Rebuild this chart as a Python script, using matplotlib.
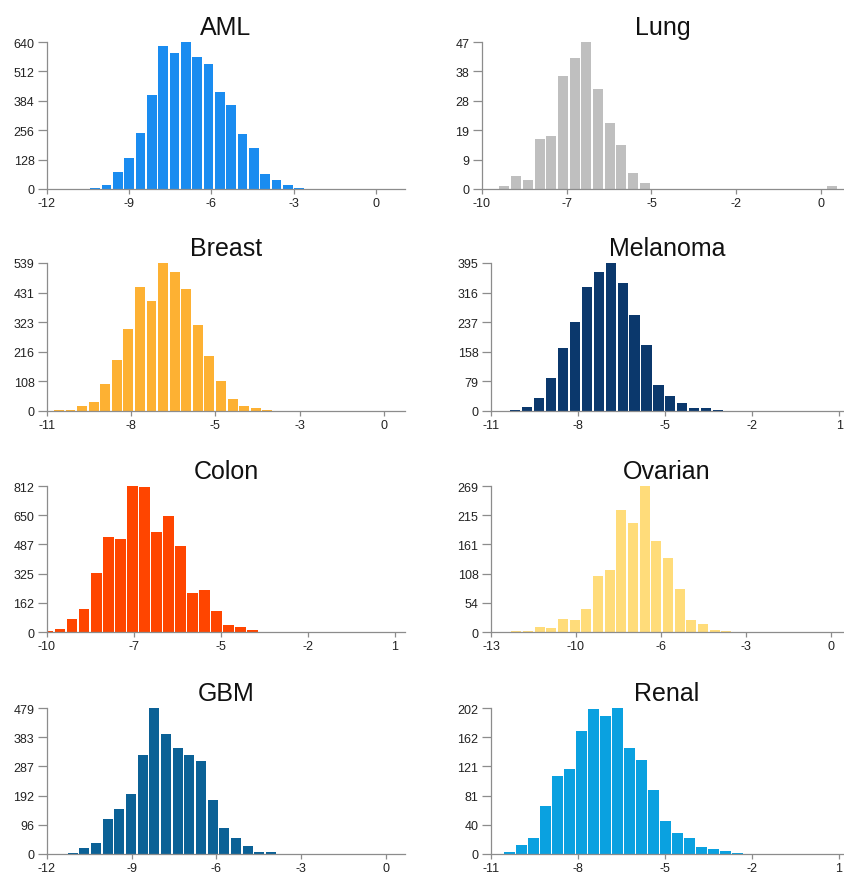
import matplotlib
matplotlib.use("Agg")
import matplotlib.pyplot as plt
import numpy as np

plt.rcParams["font.family"] = ["Liberation Sans", "DejaVu Sans"]

W, H = 844, 879

# counts per bin
aml = [2, 6, 19, 76, 134, 243, 410, 623, 591, 640, 576, 544, 423, 365, 241, 177, 65, 41, 16, 6]
lung = [1, 4, 3, 16, 17, 36, 42, 47, 32, 21, 14, 5, 2,
        0, 0, 0, 0, 0, 0, 0, 0, 0, 0, 0, 0, 0, 0, 0, 1]
breast = [2, 3, 17, 33, 100, 184, 299, 453, 399, 539, 508, 443, 312, 200, 110, 43, 17, 12, 3]
melanoma = [1, 1, 2, 11, 34, 88, 167, 237, 332, 371, 395, 342, 257, 177, 70, 39, 22, 8, 9, 4]
colon = [5, 17, 72, 126, 328, 528, 517, 812, 806, 554, 647, 476, 217, 235, 117, 37, 30, 13]
ovarian = [2, 2, 9, 7, 24, 23, 42, 103, 114, 224, 200, 269, 167, 136, 79, 23, 15, 4, 1]
gbm = [1, 4, 20, 36, 115, 147, 197, 325, 479, 395, 349, 325, 304, 178, 84, 52, 25, 8, 7, 1, 1]
renal = [3, 12, 22, 67, 108, 118, 170, 201, 191, 202, 147, 130, 88, 46, 29, 22, 10, 7, 4, 2]

# first bin edge and bin width
bin_start = {"AML": -10.86, "Lung": -9.51, "Breast": -10.80, "Melanoma": -11.19,
             "Colon": -10.15, "Ovarian": -12.25, "GBM": -11.71, "Renal": -10.57}
bin_width = {"AML": 0.413, "Lung": 0.345, "Breast": 0.378, "Melanoma": 0.411,
             "Colon": 0.38, "Ovarian": 0.446, "GBM": 0.413, "Renal": 0.414}

# x tick labels (ticks evenly spaced between first and last value)
xlabels = {
    "AML": ["-12", "-9", "-6", "-3", "0"],
    "Lung": ["-10", "-7", "-5", "-2", "0"],
    "Breast": ["-11", "-8", "-5", "-3", "0"],
    "Melanoma": ["-11", "-8", "-5", "-2", "1"],
    "Colon": ["-10", "-7", "-5", "-2", "1"],
    "Ovarian": ["-13", "-10", "-6", "-3", "0"],
    "GBM": ["-12", "-9", "-6", "-3", "0"],
    "Renal": ["-11", "-8", "-5", "-2", "1"],
}
x_right = {"AML": 1.06, "Lung": 0.65, "Breast": 0.69, "Melanoma": 1.13,
           "Colon": 1.32, "Ovarian": 0.46, "GBM": 0.68, "Renal": 1.14}

colors = {"AML": "#1a8cf0", "Lung": "#bfbfbf", "Breast": "#fdb133", "Melanoma": "#0b386c",
          "Colon": "#ff4500", "Ovarian": "#ffdc7a", "GBM": "#0b6196", "Renal": "#0aa1e0"}

panels = [("AML", aml), ("Lung", lung), ("Breast", breast), ("Melanoma", melanoma),
          ("Colon", colon), ("Ovarian", ovarian), ("GBM", gbm), ("Renal", renal)]

# pixel layout (left, right, top, bottom)
rows = [(43, 190), (264, 412), (487, 633), (709, 855)]
left_col = (47, 405)
right_col = (491, 843)

fig = plt.figure(figsize=(W / 100, H / 100), dpi=100)

for i, (name, counts) in enumerate(panels):
    top, bot = rows[i // 2]
    l, r = left_col if i % 2 == 0 else right_col
    if name == "Lung":
        l = 482
    ax = fig.add_axes([l / W, 1 - bot / H, (r - l) / W, (bot - top) / H])

    counts = np.array(counts)
    bw = bin_width[name]
    lefts = bin_start[name] + bw * np.arange(len(counts))
    ax.bar(lefts + bw * 0.07, counts, width=bw * 0.86, align="edge",
           color=colors[name], linewidth=0)

    labs = xlabels[name]
    lo, hi = float(labs[0]), float(labs[-1])
    ax.set_xlim(lo, x_right[name])
    ax.set_xticks(np.linspace(lo, hi, 5))
    ax.set_xticklabels(labs)

    ymax = counts.max()
    ax.set_ylim(0, ymax)
    yt = np.linspace(0, ymax, 6)
    ax.set_yticks(yt)
    ax.set_yticklabels([f"{v:.0f}" for v in yt])

    for s in ["top", "right"]:
        ax.spines[s].set_visible(False)
    for s in ["left", "bottom"]:
        ax.spines[s].set_color("#8c8c8c")
        ax.spines[s].set_linewidth(0.9)
    ax.tick_params(axis="y", length=6.5, width=0.9, color="#8c8c8c", pad=2.5,
                   labelsize=9, labelcolor="#222222")
    ax.tick_params(axis="x", length=3.8, width=0.9, color="#8c8c8c", pad=2,
                   labelsize=9, labelcolor="#222222")
    ax.set_title(name, fontsize=18, pad=6, color="#111111")

fig.savefig("out.png", dpi=100)
